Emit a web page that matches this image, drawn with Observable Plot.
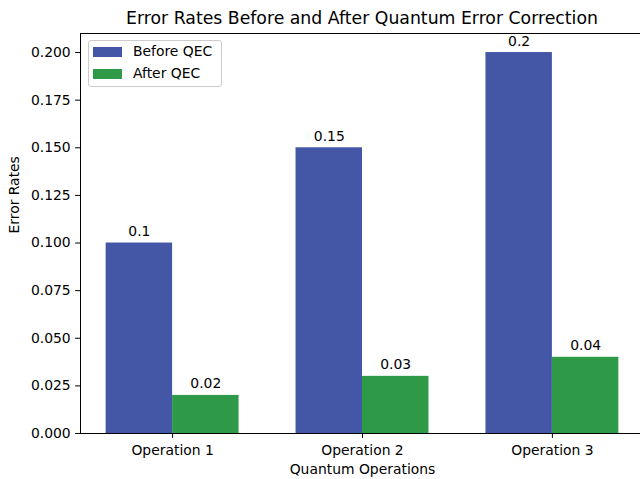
<!DOCTYPE html>
<html><head><meta charset="utf-8">
<script src="https://cdn.jsdelivr.net/npm/d3@7"></script>
<script src="https://cdn.jsdelivr.net/npm/@observablehq/plot@0.6"></script>
<style>
html,body{margin:0;padding:0;background:#fff;overflow:hidden;width:640px;height:479px}
#wrap{position:relative;width:640px;height:479px;overflow:hidden;font-family:"DejaVu Sans",sans-serif;color:#000}
#title{height:24px;width:724px;position:relative;font-size:17.3px;line-height:1;text-align:center;white-space:nowrap}
#title span{position:relative;top:9.5px;display:block}
#chart svg{display:block;overflow:visible;max-width:none !important}
#legend{position:absolute;left:88px;top:40px;width:134px;height:47px;border:1px solid #cccccc;border-radius:3px;background:rgba(255,255,255,0.8);box-sizing:border-box;font-size:13.9px}
.item{position:absolute;left:0;height:12px}
.sw{position:absolute;left:4px;width:29px;height:10px}
.lb{position:absolute;left:44px;white-space:nowrap;line-height:1}
</style>
</head><body>
<div id="wrap">
  <div id="title"><span></span></div>
  <div id="chart"></div>
  <div id="legend"></div>
</div>
<script>
const titleText = "Error Rates Before and After Quantum Error Correction";
const xLabel = "Quantum Operations";
const yLabel = "Error Rates";
const operations = ["Operation 1", "Operation 2", "Operation 3"];
const seriesNames = ["Before QEC", "After QEC"];
const beforeQEC = [0.1, 0.15, 0.2];
const afterQEC = [0.02, 0.03, 0.04];
const seriesColors = ["#4457a6", "#2e9a47"];
const yTicks = [0, 0.025, 0.05, 0.075, 0.1, 0.125, 0.15, 0.175, 0.2];
const yMax = 0.21;
const barWidth = 0.35;

document.querySelector("#title span").textContent = titleText;

const rows = [];
operations.forEach((op, i) => {
  rows.push({op, series: seriesNames[0], value: beforeQEC[i], x1: i - barWidth, x2: i});
  rows.push({op, series: seriesNames[1], value: afterQEC[i], x1: i, x2: i + barWidth});
});

const span = (operations.length - 1) + 2 * barWidth;
const xPad = span * 0.05;
const xDomain = [-barWidth - xPad, operations.length - 1 + barWidth + xPad];

const fontFamily = "DejaVu Sans, sans-serif";

const chart = Plot.plot({
  width: 645,
  height: 455,
  marginLeft: 80,
  marginRight: 1,
  marginTop: 9,
  marginBottom: 46,
  style: {fontFamily, fontSize: "13.9px", color: "#000", background: "transparent", overflow: "visible", maxWidth: "none"},
  x: {domain: xDomain},
  y: {domain: [0, yMax]},
  color: {domain: seriesNames, range: seriesColors},
  marks: [
    Plot.rect(rows, {x1: "x1", x2: "x2", y1: () => 0, y2: "value", fill: "series"}),
    Plot.text(rows, {x: d => (d.x1 + d.x2) / 2, y: "value", text: d => String(d.value), lineAnchor: "bottom", dy: -7, fill: "#000", fontSize: 13.9}),
    Plot.axisY({ticks: yTicks, tickFormat: d3.format(".3f"), tickSize: 4.9, tickPadding: 4.9, label: null, stroke: "#000", fill: "#000"}),
    Plot.axisX({ticks: operations.map((d, i) => i), tickFormat: i => operations[i], tickSize: 4.9, tickPadding: 6.5, label: null, stroke: "#000", fill: "#000"}),
    Plot.ruleY([0, yMax], {stroke: "#000", strokeWidth: 1}),
    Plot.ruleX([xDomain[0]], {stroke: "#000", strokeWidth: 1}),
    Plot.text([xLabel], {frameAnchor: "bottom", dy: 40, text: d => d, fill: "#000", fontSize: 13.9}),
    Plot.text([yLabel], {frameAnchor: "left", rotate: -90, dx: -66, text: d => d, fill: "#000", fontSize: 13.9})
  ]
});
document.getElementById("chart").appendChild(chart);

const legend = document.getElementById("legend");
seriesNames.forEach((name, k) => {
  const item = document.createElement("div");
  item.className = "item";
  item.style.top = (6 + k * 22) + "px";
  item.style.width = "100%";
  const sw = document.createElement("div");
  sw.className = "sw";
  sw.style.background = seriesColors[k];
  const lb = document.createElement("div");
  lb.className = "lb";
  lb.style.top = "-2px";
  lb.textContent = name;
  item.appendChild(sw);
  item.appendChild(lb);
  legend.appendChild(item);
});
</script>
</body></html>
